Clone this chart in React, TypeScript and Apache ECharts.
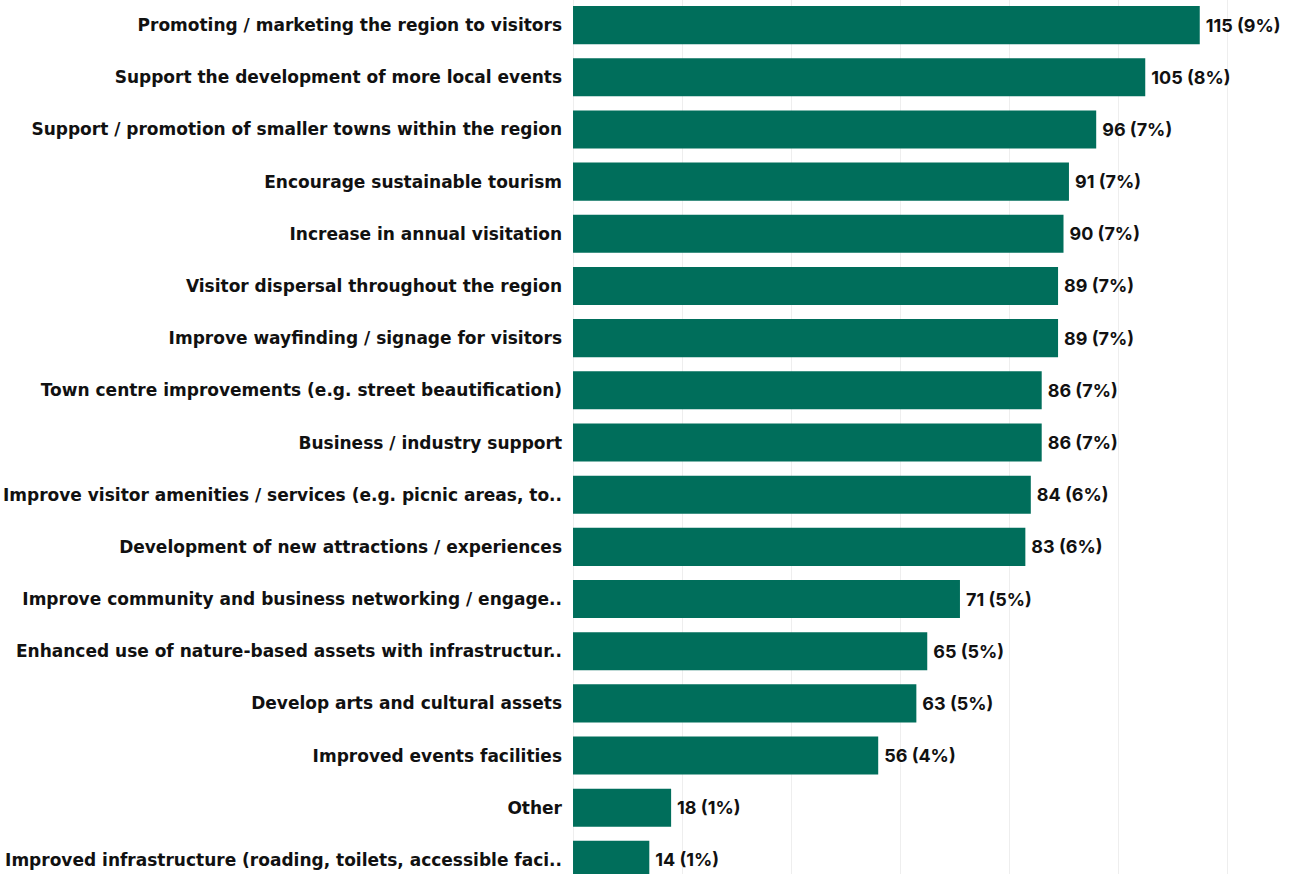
import React, { useEffect, useRef } from "react";
import * as echarts from "echarts";

const categories = [
  "Promoting / marketing the region to visitors",
  "Support the development of more local events",
  "Support / promotion of smaller towns within the region",
  "Encourage sustainable tourism",
  "Increase in annual visitation",
  "Visitor dispersal throughout the region",
  "Improve wayfinding / signage for visitors",
  "Town centre improvements (e.g. street beautification)",
  "Business / industry support",
  "Improve visitor amenities / services (e.g. picnic areas, to..",
  "Development of new attractions / experiences",
  "Improve community and business networking / engage..",
  "Enhanced use of nature-based assets with infrastructur..",
  "Develop arts and cultural assets",
  "Improved events facilities",
  "Other",
  "Improved infrastructure (roading, toilets, accessible faci..",
];
const counts = [115, 105, 96, 91, 90, 89, 89, 86, 86, 84, 83, 71, 65, 63, 56, 18, 14];
const percents = [9, 8, 7, 7, 7, 7, 7, 7, 7, 6, 6, 5, 5, 5, 4, 1, 1];

export default function App() {
  const ref = useRef<HTMLDivElement>(null);
  useEffect(() => {
    if (!ref.current) return;
    const chart = echarts.init(ref.current, undefined, { renderer: "svg" });
    chart.setOption({
      animation: false,
      grid: { left: 572, right: 64, top: 0, bottom: 0, containLabel: false },
      xAxis: {
        type: "value",
        min: 0,
        max: 120,
        interval: 20,
        axisLabel: { show: false },
        axisLine: { show: false },
        axisTick: { show: false },
        splitLine: { show: true, lineStyle: { color: "#eeeeee", width: 1 } },
      },
      yAxis: {
        type: "category",
        inverse: true,
        data: categories,
        axisLine: { show: false },
        axisTick: { show: false },
        axisLabel: {
          margin: 11,
          color: "#111111",
          fontFamily: "DejaVu Sans",
          fontWeight: 700,
          fontSize: 17,
        },
      },
      series: [
        {
          type: "bar",
          data: counts,
          barCategoryGap: "27%",
          itemStyle: { color: "#006e5b" },
          label: {
            show: true,
            position: "right",
            distance: 6,
            color: "#111111",
            fontFamily: "Inter",
            fontWeight: 700,
            fontSize: 18,
            formatter: (p: any) => `${counts[p.dataIndex]} (${percents[p.dataIndex]}%)`,
          },
        },
      ],
    });
    return () => chart.dispose();
  }, []);
  return (
    <div style={{ position: "fixed", left: 0, top: 0, width: 1291, height: 874, overflow: "hidden", background: "#fff" }}>
      <div ref={ref} style={{ position: "absolute", left: 0, top: -1, width: 1291, height: 887 }} />
    </div>
  );
}
